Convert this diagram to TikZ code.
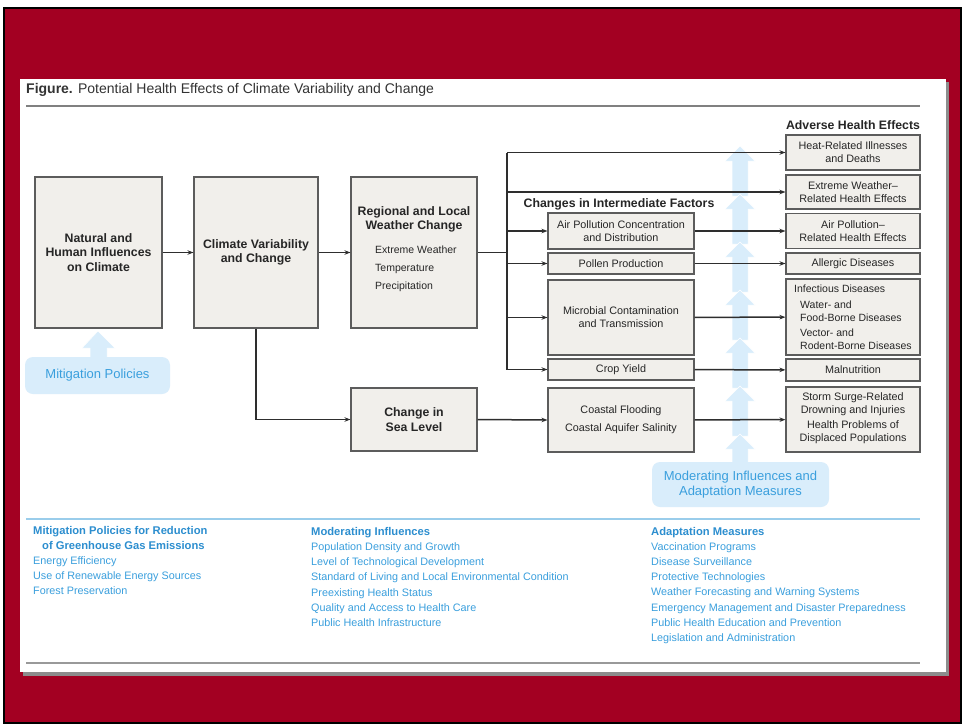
\documentclass[tikz,border=0pt]{standalone}
\usepackage{fontspec}
\setmainfont{Liberation Sans}
\usetikzlibrary{arrows.meta}
\definecolor{bgred}{HTML}{A30022}
\definecolor{boxfill}{HTML}{F1EFEB}
\definecolor{boxline}{HTML}{5C5C5C}
\definecolor{connc}{HTML}{2E2E2E}
\definecolor{lblue}{HTML}{D9EDFB}
\definecolor{bluetext}{HTML}{3A9FDD}
\definecolor{bluehead}{HTML}{2C8ECF}
\definecolor{blueline}{HTML}{9ACDEB}
\newcommand\hdtxt[1]{{\bfseries\fontsize{11.2}{13}\selectfont\color{bluehead}#1}}
\begin{document}
\begin{tikzpicture}[x=1pt,y=-1pt,
  box/.style={draw=boxline, fill=boxfill, line width=1.1pt, inner sep=1pt, align=center,
    font=\fontsize{10.8}{13}\selectfont, text=black!85},
  bigbox/.style={box, font=\bfseries\fontsize{12.3}{14.5}\selectfont},
  lbl/.style={inner sep=0pt, text=black!85, font=\fontsize{10.5}{13}\selectfont},
  hdr/.style={inner sep=0pt, text=black!85, font=\bfseries\fontsize{12.3}{14}\selectfont},
  line/.style={draw=connc, line width=1.5pt},
  arr/.style={line, -{Stealth[length=6pt,width=4.5pt]}},
  blist/.style={inner sep=0pt, anchor=west, text height=8pt, text depth=2pt, text=bluetext,
    font=\fontsize{10.8}{12}\selectfont},
  bubble/.style={fill=lblue, rounded corners=8pt, text=bluetext, align=center,
    font=\fontsize{13}{15}\selectfont},
  barrow/.style={fill=lblue, draw=white, line width=0.5pt}
]
\useasboundingbox (0,0) rectangle (964,726);
% frame
\fill[white] (0,0) rectangle (964,726);
\draw[fill=bgred, draw=black, line width=2.5pt] (4,8) rectangle (961,723);
% panel
\fill[black!45] (23,82) rectangle (949,676);
\fill[white] (20,79) rectangle (946,672);
\draw[black!50, line width=1.6pt] (26,106) -- (920,106);
\draw[black!40, line width=1.6pt] (26,663) -- (920,663);
\node[anchor=west, inner sep=0pt, font=\fontsize{14}{16}\selectfont, text=black!80] (title) at (26,90)
  {\textbf{Figure.} Potential Health Effects of Climate Variability and Change};

% blue moderating column
\foreach \t/\e in {146/196,194/244,242/292,290/340,338/388,386/436,434/463}{
  \filldraw[barrow] (740,\t) -- (755,\t+15) -- (748,\t+15) -- (748,\e) -- (732,\e) -- (732,\t+15) -- (725,\t+15) -- cycle;
}
\node[bubble, minimum width=177pt, minimum height=45pt] (modb) at (740.5,484.5)
  {Moderating Influences and\\Adaptation Measures};

% mitigation bubble
\filldraw[barrow] (98,331) -- (115,348) -- (107,348) -- (107,359) -- (90,359) -- (90,348) -- (82,348) -- cycle;
\node[bubble, minimum width=145pt, minimum height=37pt] (mitb) at (97.5,375.5) {Mitigation Policies};

% main boxes
\node[bigbox, minimum width=127pt, minimum height=151pt] (nat) at (98.5,252.5)
  {Natural and\\Human Influences\\on Climate};
\node[bigbox, minimum width=124pt, minimum height=151pt] (clim) at (256,252.5)
  {Climate Variability\\and Change};
\node[box, minimum width=126pt, minimum height=151pt] (reg) at (414,252.5) {};
\node[hdr, align=center, font=\bfseries\fontsize{12.3}{14}\selectfont] (regt) at (414,219) {Regional and Local\\Weather Change};
\node[lbl, anchor=west] (reg1) at (375,250) {Extreme Weather};
\node[lbl, anchor=west] (reg2) at (375,269) {Temperature};
\node[lbl, anchor=west] (reg3) at (375,287) {Precipitation};
\node[bigbox, minimum width=126pt, minimum height=63pt] (sea) at (414,419.5)
  {Change in\\Sea Level};

% intermediate factors
\node[hdr] (inth) at (619,204) {Changes in Intermediate Factors};
\node[box, minimum width=146pt, minimum height=36pt] (air) at (621,231) {Air Pollution Concentration\\and Distribution};
\node[box, minimum width=146pt, minimum height=21pt] (pol) at (621,263.5) {Pollen Production};
\node[box, minimum width=146pt, minimum height=75pt] (mic) at (621,317.5) {Microbial Contamination\\and Transmission};
\node[box, minimum width=146pt, minimum height=21pt] (crop) at (621,369.5) {Crop Yield};
\node[box, minimum width=146pt, minimum height=64pt] (coast) at (621,420) {Coastal Flooding\\[5pt]Coastal Aquifer Salinity};

% adverse health effects
\node[hdr] (advh) at (853,125) {Adverse Health Effects};
\node[box, minimum width=134pt, minimum height=35pt] (heat) at (853,152.5) {Heat-Related Illnesses\\and Deaths};
\node[box, minimum width=134pt, minimum height=34pt] (ext) at (853,192) {Extreme Weather--\\Related Health Effects};
\node[box, minimum width=134pt, minimum height=35pt] (airh) at (853,231) {Air Pollution--\\Related Health Effects};
\node[box, minimum width=134pt, minimum height=21pt] (all) at (853,263.5) {Allergic Diseases};
\node[box, minimum width=134pt, minimum height=76pt] (inf) at (853,317) {};
\node[lbl, anchor=west] (inf1) at (794,289) {Infectious Diseases};
\node[lbl, anchor=west] (inf2) at (800,305) {Water- and};
\node[lbl, anchor=west] (inf3) at (800,318) {Food-Borne Diseases};
\node[lbl, anchor=west] (inf4) at (800,333) {Vector- and};
\node[lbl, anchor=west] (inf5) at (800,346) {Rodent-Borne Diseases};
\node[box, minimum width=134pt, minimum height=22pt] (mal) at (853,370) {Malnutrition};
\node[box, minimum width=134pt, minimum height=65pt] (storm) at (853,419.5) {};
\node[lbl, align=center, font=\fontsize{10.8}{12.5}\selectfont] (storm1) at (853,404) {Storm Surge-Related\\Drowning and Injuries};
\node[lbl, align=center, font=\fontsize{10.8}{13}\selectfont] (storm2) at (853,432) {Health Problems of\\Displaced Populations};

% connectors
\coordinate (j) at (507,252.5);
\draw[arr] (nat) -- (clim);
\draw[arr] (clim) -- (reg);
\draw[arr] (clim.south) |- (sea.west);
\draw[line] (reg.east) -- (j);
\draw[line] (j |- heat.west) -- (j |- crop.west);
\draw[arr] (j |- heat.west) -- (heat.west);
\draw[arr] (j |- ext.west) -- (ext.west);
\draw[arr] (j |- air.west) -- (air.west);
\draw[arr] (j |- pol.west) -- (pol.west);
\draw[arr] (j |- mic.west) -- (mic.west);
\draw[arr] (j |- crop.west) -- (crop.west);
\draw[arr] (sea.east) -- (coast.west);
\draw[arr] (air.east) -- (airh.west |- air.east);
\draw[arr] (pol) -- (all);
\draw[arr] (mic) -- (inf);
\draw[arr] (crop) -- (mal);
\draw[arr] (coast) -- (storm);

% bottom lists
\draw[blueline, line width=1.6pt] (26,519) -- (920,519);
\node[blist] (m0) at (33,531) {\hdtxt{Mitigation Policies for Reduction}};
\node[blist] (m1) at (42,546) {\hdtxt{of Greenhouse Gas Emissions}};
\foreach \s [count=\i] in {Energy Efficiency, Use of Renewable Energy Sources, Forest Preservation}
  \node[blist] (mi\i) at (33,546+15.2*\i) {\s};
\node[blist] (d0) at (311,532) {\hdtxt{Moderating Influences}};
\foreach \s [count=\i] in {Population Density and Growth, Level of Technological Development,
  Standard of Living and Local Environmental Condition, Preexisting Health Status,
  Quality and Access to Health Care, Public Health Infrastructure}
  \node[blist] (di\i) at (311,532+15.3*\i) {\s};
\node[blist] (a0) at (651,532) {\hdtxt{Adaptation Measures}};
\foreach \s [count=\i] in {Vaccination Programs, Disease Surveillance, Protective Technologies,
  Weather Forecasting and Warning Systems, Emergency Management and Disaster Preparedness,
  Public Health Education and Prevention, Legislation and Administration}
  \node[blist] (ai\i) at (651,532+15.2*\i) {\s};
\end{tikzpicture}
\end{document}
